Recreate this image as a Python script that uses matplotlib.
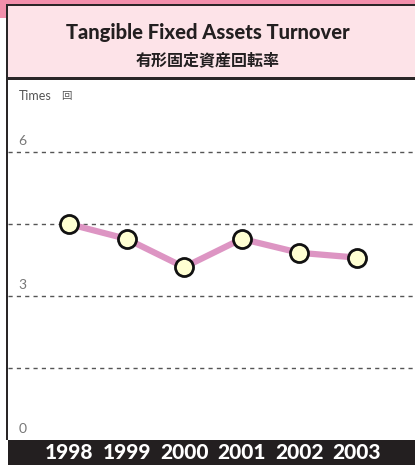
import matplotlib.pyplot as plt
from matplotlib.patches import Rectangle

# データ
years = ["1998", "1999", "2000", "2001", "2002", "2003"]
turnover = [4.5, 4.19, 3.60, 4.19, 3.90, 3.80]
grid_levels = [1.5, 3, 4.5, 6]
tick_labels = {0: "0", 3: "3", 6: "6"}

W, H = 415, 465
fig = plt.figure(figsize=(W / 100, H / 100), dpi=100)
fig.patch.set_facecolor("white")


def box(x0, y0, x1, y1, color):
    # pixel coords, origin top-left
    fig.add_artist(Rectangle((x0 / W, 1 - y1 / H), (x1 - x0) / W, (y1 - y0) / H,
                             transform=fig.transFigure, facecolor=color,
                             edgecolor="none", zorder=0))


# header decorations
box(0, 0, W, 5, "#f28fab")
box(0, 0, 7, 18, "#f28fab")
box(6, 4, W, 80, "#2a2627")
box(8, 6, W, 77, "#fde3e8")
box(6, 80, 8, 440, "#2a2627")
box(8, 440, W, H, "#231f20")

fig.text(0.5, 1 - 33 / H, "Tangible Fixed Assets Turnover", ha="center", va="center",
         fontsize=14.5, fontweight="black", family=["Lato", "DejaVu Sans"], color="#231f20")
fig.text(0.5, 1 - 60 / H, "有形固定資産回転率", ha="center", va="center",
         fontsize=11.5, fontweight="bold", family=["Noto Sans CJK JP", "DejaVu Sans"], color="#231f20")

ax = fig.add_axes([8 / W, (H - 440) / H, (W - 8) / W, 360 / H])
ax.set_xlim(-1.06, 6.01)
ax.set_ylim(0, 7.5)
ax.axis("off")

for g in grid_levels:
    ax.axhline(g, color="#555555", lw=1, dashes=(3, 3), zorder=1)

for v, t in tick_labels.items():
    ax.text(-0.88, v + 0.1, t, fontsize=10, color="#777777", va="bottom", ha="left",
            family=["Lato", "DejaVu Sans"])

fig.text(19 / W, 1 - 96 / H, "Times", fontsize=9, color="#555555", va="center", ha="left",
         family=["Lato", "DejaVu Sans"])
fig.text(61 / W, 1 - 96 / H, "回", fontsize=7.5, color="#555555", va="center", ha="left",
         family=["Noto Sans CJK JP", "DejaVu Sans"])

x = list(range(len(years)))
ax.plot(x, turnover, color="#dd95c3", lw=4.5, zorder=2, solid_capstyle="butt")
ax.plot(x, turnover, "o", ms=13, markerfacecolor="#ffffd2", markeredgecolor="#111111",
        markeredgewidth=2, zorder=3)

for i, yr in enumerate(years):
    ax.text(i, -0.25, yr, ha="center", va="center", color="white", fontsize=15,
            fontweight="black", family=["Lato", "DejaVu Sans"], clip_on=False)

fig.savefig("out.png", dpi=100)
